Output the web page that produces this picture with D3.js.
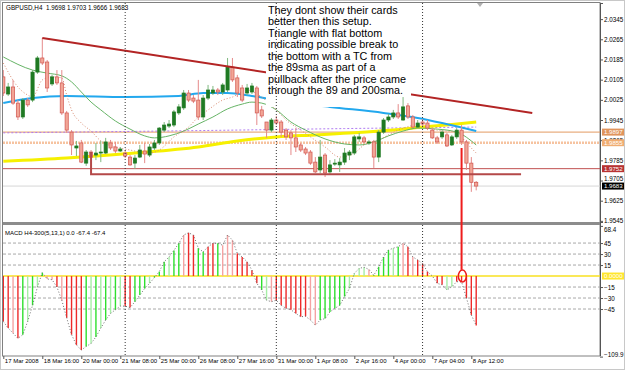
<!DOCTYPE html>
<html>
<head>
<meta charset="utf-8">
<script src="https://cdn.jsdelivr.net/npm/d3@7"></script>
<style>
html, body { margin: 0; padding: 0; background: #fff; }
svg { display: block; font-family: "Liberation Sans", Arial, sans-serif; }
</style>
</head>
<body>
<svg id="chart" width="625" height="370"></svg>
<script>
// GBPUSD H4 candles (bar 0 = 17 Mar 08:00)
const opens = [2.0116,2.0048,2.0076,2.0012,1.9957,2.0024,2.0024,2.0135,2.0191,2.0175,
    2.0088,2.0116,2.0092,1.9973,1.9897,1.9834,1.9854,1.9774,1.9818,1.9806,
    1.9814,1.9814,1.9854,1.9838,1.9822,1.9814,1.9798,1.9774,1.9798,1.9822,
    1.9806,1.9834,1.9854,1.9905,1.9921,1.9925,1.9973,1.9993,2.0052,2.0032,
    2.0024,1.9957,2.0032,2.0052,2.0064,2.0056,2.0064,2.0155,2.0112,2.0072,
    2.0052,2.0056,2.0072,1.9985,1.9937,1.9905,1.9945,1.9937,1.9905,1.9894,
    1.9874,1.9846,1.9830,1.9818,1.9778,1.9747,1.9806,1.9739,1.9771,1.9767,
    1.9778,1.9806,1.9814,1.9870,1.9874,1.9854,1.9858,1.9798,1.9897,1.9945,
    1.9957,1.9973,1.9945,2.0001,1.9957,1.9917,1.9937,1.9933,1.9905,1.9874,
    1.9878,1.9886,1.9846,1.9878,1.9905,1.9858,1.9774,1.9698];
const highs = [2.0143,2.0092,2.0104,2.0024,2.0032,2.0032,2.0143,2.0199,2.0270,2.0183,
    2.0124,2.0143,2.0143,1.9981,1.9905,1.9862,1.9866,1.9826,1.9826,1.9854,
    1.9862,1.9874,1.9866,1.9858,1.9838,1.9826,1.9806,1.9806,1.9846,1.9854,
    1.9850,1.9866,1.9917,1.9937,1.9945,1.9985,2.0008,2.0064,2.0064,2.0044,
    2.0104,2.0044,2.0084,2.0080,2.0072,2.0092,2.0191,2.0191,2.0124,2.0084,
    2.0088,2.0092,2.0080,2.0001,1.9937,1.9953,1.9961,1.9945,1.9913,1.9905,
    1.9913,1.9854,1.9838,1.9826,1.9798,1.9866,1.9814,1.9786,1.9790,1.9794,
    1.9834,1.9826,1.9886,1.9894,1.9882,1.9866,1.9866,1.9905,1.9953,1.9969,
    1.9985,2.0008,2.0036,2.0012,1.9965,1.9945,1.9949,1.9945,1.9913,1.9882,
    1.9905,1.9894,1.9886,1.9913,1.9925,1.9866,1.9798,1.9703];
const lows = [2.0040,2.0040,2.0005,1.9945,1.9949,1.9997,2.0016,2.0128,2.0163,2.0056,
    2.0080,2.0084,1.9965,1.9894,1.9806,1.9802,1.9774,1.9763,1.9794,1.9786,
    1.9778,1.9810,1.9826,1.9814,1.9818,1.9794,1.9763,1.9751,1.9794,1.9774,
    1.9798,1.9826,1.9846,1.9897,1.9913,1.9917,1.9965,1.9985,2.0016,2.0012,
    1.9945,1.9945,2.0024,2.0044,2.0044,2.0044,2.0056,2.0096,2.0036,2.0016,
    2.0044,2.0048,1.9925,1.9953,1.9874,1.9897,1.9925,1.9878,1.9866,1.9806,
    1.9818,1.9818,1.9806,1.9767,1.9735,1.9735,1.9719,1.9731,1.9763,1.9739,
    1.9767,1.9786,1.9806,1.9858,1.9854,1.9846,1.9755,1.9778,1.9890,1.9937,
    1.9949,1.9949,1.9941,1.9949,1.9913,1.9913,1.9921,1.9905,1.9870,1.9850,
    1.9870,1.9838,1.9842,1.9870,1.9846,1.9747,1.9660,1.9666];
const closes = [2.0052,2.0076,2.0012,1.9957,2.0024,2.0005,2.0135,2.0191,2.0171,2.0072,
    2.0116,2.0092,1.9973,1.9905,1.9846,1.9842,1.9778,1.9818,1.9798,1.9814,
    1.9818,1.9858,1.9834,1.9822,1.9830,1.9802,1.9767,1.9794,1.9826,1.9810,
    1.9838,1.9854,1.9913,1.9925,1.9929,1.9977,1.9997,2.0052,2.0024,2.0020,
    1.9957,2.0032,2.0064,2.0064,2.0056,2.0084,2.0155,2.0104,2.0052,2.0024,
    2.0072,2.0080,1.9973,1.9961,1.9905,1.9945,1.9933,1.9897,1.9878,1.9874,
    1.9838,1.9826,1.9814,1.9774,1.9739,1.9798,1.9735,1.9767,1.9774,1.9778,
    1.9814,1.9818,1.9878,1.9878,1.9858,1.9858,1.9798,1.9897,1.9945,1.9957,
    1.9973,1.9957,1.9997,1.9957,1.9917,1.9933,1.9929,1.9913,1.9874,1.9858,
    1.9897,1.9842,1.9878,1.9905,1.9858,1.9774,1.9698,1.9683];

// moving averages, sampled at bar indices
const sma200Idx = [0, 6, 13, 25, 36, 41, 46, 51, 56, 67, 78, 85, 90, 97];
const sma200Val = [2.0012,2.0032,2.0040,2.0036,2.0040,2.0052,2.0052,2.0040,2.0024,1.9997,1.9973,1.9953,1.9933,1.9901];
const sma89Idx = [0, 13, 27, 40, 48, 56, 64, 72, 80, 86, 92, 97];
const sma89Val = [1.9781,1.9794,1.9814,1.9838,1.9862,1.9878,1.9886,1.9894,1.9905,1.9917,1.9927,1.9937];
const maGreenIdx = [0,6,9,12,14,16,18,20,23,26,29,31,34,37,40,43,46,49,51,53,56,59,62,66,70,73,76,79,82,85,89,93,97];
const maGreenVal = [2.0195,2.0143,2.0131,2.0120,2.0096,2.0056,2.0016,1.9985,1.9941,1.9909,1.9882,1.9874,1.9882,1.9901,1.9929,1.9957,1.9989,2.0008,2.0016,2.0012,1.9985,1.9937,1.9905,1.9870,1.9850,1.9846,1.9858,1.9882,1.9901,1.9913,1.9909,1.9897,1.9846];
const maDotIdx = [0,3,5,6,8,10,12,13,14,16,18,20,23,26,28,30,32,35,38,40,42,45,47,50,53,56,58,61,63,66,69,72,74,77,81,85,89,93,95,97];
const maDotVal = [2.0171,2.0076,2.0044,2.0036,2.0104,2.0116,2.0112,2.0044,1.9985,1.9933,1.9901,1.9862,1.9838,1.9826,1.9818,1.9814,1.9826,1.9878,1.9917,1.9957,1.9985,2.0024,2.0036,2.0064,2.0036,1.9985,1.9945,1.9905,1.9878,1.9838,1.9798,1.9814,1.9846,1.9866,1.9905,1.9925,1.9905,1.9897,1.9854,1.9814];
const maPurpleIdx = [0, 40, 70, 97];
const maPurpleVal = [1.9894, 1.9903, 1.9911, 1.9917];

// MACD H4-300(5,13,1) histogram and colour code per bar
const macd = [-62,-71,-78,-85,-80,-62,-40,-15,4.5,-4,
    -5,-15,-33,-57,-80,-94,-101,-96,-92,-83,
    -71,-60,-51,-46,-41,-41,-43,-35,-26,-17,
    -10,-2,6,19.5,26,35,44.6,56,59,56,
    38,33,40,44.6,44.6,42,56,49,31,26,
    19.5,8,-10,-19,-33,-35,-33,-40,-44,-46,
    -51,-55.5,-55,-60,-67,-60,-58,-49,-44,-40,
    -28,-17,3.6,10.5,12,9,1,12.7,26,35.5,
    38,40,44.6,40,26,22,17,6,0,-10,
    -12,-19,-14.6,-7.7,-8,-30,-53,-67.4];
const macdColor = "rrprglglgpprprrrrglglglglrrggglgggl ggprrggrrgppprrrrrglprrrrrrrppggggggllllpggggl gprprrrrrrllrrrr".replace(/ /g, "").split("");

const priceTicks = [2.0345,2.0265,2.0185,2.0105,2.0025,1.9945,1.9865,1.9785,1.9705,1.9625,1.9545];
const macdTicks = [68.4, 45, 30, 15, -15, -30, -45, -109.9];
const macdGrid = [45, 30, 15, -15, -30, -45];
const timeIdx = [0, 8, 16, 24, 32, 40, 48, 56, 64, 72, 80, 88, 96];
const timeLabels = ["17 Mar 2008","18 Mar 16:00","20 Mar 00:00","21 Mar 08:00","25 Mar 00:00","26 Mar 08:00",
    "27 Mar 16:00","31 Mar 00:00","1 Apr 08:00","2 Apr 16:00","4 Apr 00:00","7 Apr 04:00","8 Apr 12:00"];
const weekSeps = [25, 56, 86];

// levels and drawn objects
const levels = [
    { v: 1.9897, color: "#e39a62", w: 1, dash: null, box: "#e0945c" },
    { v: 1.9855, color: "#f6c3a0", w: 2.5, dash: "2,1", box: "#f0ad72" },
    { v: 1.9752, color: "#c05050", w: 1, dash: null, box: "#b83232" },
    { v: 1.9683, color: "#d6d6d6", w: 1, dash: null, box: "#000000" }
];
const trendFrom = [8, 2.0270], trendTo = [108.5, 1.9973];
const supportLine = [[18, 1.9818], [18, 1.9730], [106.2, 1.9730]];
const noteLines = ["They dont show their cards", "better then this setup.", "Triangle with flat bottom",
    "indicating possible break to", "the bottom with a TC from", "the 89sma as part of a",
    "pullback after the price came", "through the 89 and 200sma."];

const svg = d3.select("#chart");
const left = 3, right = 600, mainTop = 3, mainBottom = 222, macdTop = 225, macdBottom = 356.6;

const x = d3.scaleLinear().domain([0, 97]).range([3.3, 476.2]);
const y = d3.scaleLinear().domain([1.95405, 2.0409]).range([mainBottom, mainTop]);
const ym = d3.scaleLinear().domain([-109.9, 68.4]).range([macdBottom, 225.9]);

const defs = svg.append("defs");
defs.append("clipPath").attr("id", "clipMain").append("rect")
    .attr("x", left).attr("y", mainTop).attr("width", right - left).attr("height", mainBottom - mainTop);
defs.append("clipPath").attr("id", "clipMacd").append("rect")
    .attr("x", left).attr("y", macdTop).attr("width", right - left).attr("height", 356 - macdTop);

// window frame
svg.append("rect").attr("x", 0.5).attr("y", 0.5).attr("width", 624).attr("height", 369)
    .attr("fill", "#fff").attr("stroke", "#c8c8c8");
svg.append("rect").attr("x", 2.5).attr("y", 2.5).attr("width", right - 2.5).attr("height", 356 - 2.5)
    .attr("fill", "none").attr("stroke", "#808080");

const main = svg.append("g").attr("clip-path", "url(#clipMain)");
const sub = svg.append("g").attr("clip-path", "url(#clipMacd)");

// horizontal levels
levels.forEach(l => {
    main.append("line").attr("x1", left).attr("x2", right)
        .attr("y1", y(l.v)).attr("y2", y(l.v))
        .attr("stroke", l.color).attr("stroke-width", l.w)
        .attr("stroke-dasharray", l.dash);
});

// moving averages
const maLine = d3.line().x(d => x(d[0])).y(d => y(d[1])).curve(d3.curveMonotoneX);
const drawMA = (idx, vals, color, width, dash) => {
    main.append("path").datum(idx.map((d, i) => [d, vals[i]]))
        .attr("d", maLine).attr("fill", "none")
        .attr("stroke", color).attr("stroke-width", width)
        .attr("stroke-dasharray", dash);
};
drawMA(maPurpleIdx, maPurpleVal, "#b07cf2", 1, "2,2");
drawMA(sma89Idx, sma89Val, "#f6f000", 3, null);
drawMA(sma200Idx, sma200Val, "#22a8ee", 2, null);
drawMA(maGreenIdx, maGreenVal, "#66b466", 1, null);
drawMA(maDotIdx, maDotVal, "#d98c72", 1, "1,2");

// week separators
weekSeps.forEach(i => {
    svg.append("line").attr("x1", x(i)).attr("x2", x(i)).attr("y1", mainTop).attr("y2", 356)
        .attr("stroke", "#333").attr("stroke-width", 1).attr("stroke-dasharray", "1,2");
});

// candles
opens.forEach((o, i) => {
    const c = closes[i];
    const bull = c >= o;
    main.append("line").attr("x1", x(i)).attr("x2", x(i))
        .attr("y1", y(highs[i])).attr("y2", y(lows[i]))
        .attr("stroke", bull ? "#7fb87f" : "#e58a8a").attr("stroke-width", 1);
    const top = y(Math.max(o, c)), bot = y(Math.min(o, c));
    main.append("rect").attr("x", x(i) - 1.6).attr("y", top)
        .attr("width", 3.2).attr("height", Math.max(1, bot - top))
        .attr("fill", bull ? "#1f7a23" : "#f2a596")
        .attr("stroke", bull ? "#1f7a23" : "#d0554f").attr("stroke-width", 0.7);
});

// trend line and triangle bottom
main.append("line")
    .attr("x1", x(trendFrom[0])).attr("y1", y(trendFrom[1]))
    .attr("x2", x(trendTo[0])).attr("y2", y(trendTo[1]))
    .attr("stroke", "#b32424").attr("stroke-width", 2);
main.append("path").datum(supportLine)
    .attr("d", d3.line().x(d => x(d[0])).y(d => y(d[1])))
    .attr("fill", "none").attr("stroke", "#b44848").attr("stroke-width", 2);

// note
main.append("rect").attr("x", 266).attr("y", mainTop).attr("width", 145).attr("height", 94).attr("fill", "#fff");
main.append("rect").attr("x", 266).attr("y", mainTop).attr("width", 122).attr("height", 104).attr("fill", "#fff");
const note = main.append("text").attr("x", 268).attr("y", 13.5)
    .attr("font-size", "10.8px").attr("fill", "#000");
noteLines.forEach((t, i) => {
    note.append("tspan").attr("x", 268).attr("dy", i === 0 ? 0 : 11.5).text(t);
});

// header
svg.append("text").attr("x", 6).attr("y", 9.5).attr("font-size", "6.3px").attr("fill", "#000")
    .attr("xml:space", "preserve").text("GBPUSD,H4  1.9698 1.9703 1.9666 1.9683");

// panel separator
svg.append("rect").attr("x", left).attr("y", mainBottom).attr("width", right - left).attr("height", 3)
    .attr("fill", "#8c8c8c");

// MACD panel
macdGrid.forEach(v => {
    sub.append("line").attr("x1", left).attr("x2", right).attr("y1", ym(v)).attr("y2", ym(v))
        .attr("stroke", "#a8a8a8").attr("stroke-dasharray", "3,2");
});
sub.append("line").attr("x1", left).attr("x2", right).attr("y1", ym(0)).attr("y2", ym(0))
    .attr("stroke", "#f8e020").attr("stroke-width", 1.5);
const histColors = { r: "#ee2a2a", p: "#f5a3a3", g: "#2ee02e", l: "#a6eea6" };
macd.forEach((v, i) => {
    sub.append("line").attr("x1", x(i)).attr("x2", x(i)).attr("y1", ym(0)).attr("y2", ym(v))
        .attr("stroke", histColors[macdColor[i]] || "#ee2a2a").attr("stroke-width", 1.4);
});
sub.append("path").datum(macd)
    .attr("d", d3.line().x((d, i) => x(i)).y(d => ym(d)))
    .attr("fill", "none").attr("stroke", "#707070").attr("stroke-width", 1).attr("stroke-dasharray", "1,2");
svg.append("text").attr("x", 5).attr("y", 234.5).attr("font-size", "6px").attr("fill", "#000")
    .text("MACD H4-300(5,13,1) 0.0 -67.4 -67.4");

// red marker: vertical line down to circled MACD bar
svg.append("line").attr("x1", x(94)).attr("x2", x(94)).attr("y1", y(1.9834)).attr("y2", ym(8.5))
    .attr("stroke", "#ee1c1c").attr("stroke-width", 2);
svg.append("ellipse").attr("cx", x(94) + 0.8).attr("cy", ym(0)).attr("rx", 4).attr("ry", 6)
    .attr("fill", "none").attr("stroke", "#ee1c1c").attr("stroke-width", 1.5);

// chart shift marker
svg.append("path").attr("d", "M477,3 L483,3 L480,7 Z").attr("fill", "#b0b0b0");

// price axis
const pAxis = svg.append("g").attr("transform", `translate(${right},0)`)
    .call(d3.axisRight(y).tickValues(priceTicks).tickSize(3).tickFormat(d3.format(".4f")));
pAxis.select(".domain").attr("stroke", "#555");
pAxis.selectAll("line").attr("stroke", "#555");
pAxis.selectAll("text").attr("x", 4).attr("font-size", "6.3px").attr("font-family", "Liberation Sans, Arial, sans-serif").attr("fill", "#000");
pAxis.selectAll(".tick").filter(d => d === 1.9705).select("text").attr("dy", "0.05em");
svg.append("line").attr("x1", right + 0.5).attr("x2", right + 0.5).attr("y1", mainTop).attr("y2", 356)
    .attr("stroke", "#555");

// level price boxes (1.9865 sits underneath the 1.9855 box, as in the original)
levels.forEach(l => {
    const yy = y(l.v);
    svg.append("rect").attr("x", right + 2).attr("y", yy - 3.5).attr("width", 22).attr("height", 7)
        .attr("fill", l.box);
    svg.append("text").attr("x", right + 4).attr("y", yy + 2.2).attr("font-size", "6.1px")
        .attr("fill", "#fff").text(d3.format(".4f")(l.v));
});

// MACD axis
const mAxis = svg.append("g").attr("transform", `translate(${right},0)`)
    .call(d3.axisRight(ym).tickValues(macdTicks).tickSize(3).tickFormat(d => d3.format("")(d)));
mAxis.select(".domain").remove();
mAxis.selectAll("line").attr("stroke", "#555");
mAxis.selectAll("text").attr("x", 4).attr("font-size", "6.3px").attr("font-family", "Liberation Sans, Arial, sans-serif").attr("fill", "#000");
mAxis.selectAll(".tick").filter(d => d === 68.4).select("text").attr("dy", "0.9em");
mAxis.selectAll(".tick").filter(d => d === -109.9).select("text").attr("dy", "0.05em");
svg.append("rect").attr("x", right + 2).attr("y", ym(0) - 3.5).attr("width", 22).attr("height", 7).attr("fill", "#ffe62e");
svg.append("text").attr("x", right + 4).attr("y", ym(0) + 2.2).attr("font-size", "6.1px").attr("fill", "#fff").text("0.0000");

// time axis
const tAxis = svg.append("g").attr("transform", "translate(0,356)")
    .call(d3.axisBottom(x).tickValues(timeIdx).tickSize(3).tickFormat((d, i) => timeLabels[i]));
tAxis.select(".domain").remove();
tAxis.selectAll("line").attr("stroke", "#555");
tAxis.selectAll("text").attr("text-anchor", "start").attr("x", 1).attr("y", 3)
    .attr("font-size", "6px").attr("font-family", "Liberation Sans, Arial, sans-serif").attr("fill", "#000");
</script>
</body>
</html>
